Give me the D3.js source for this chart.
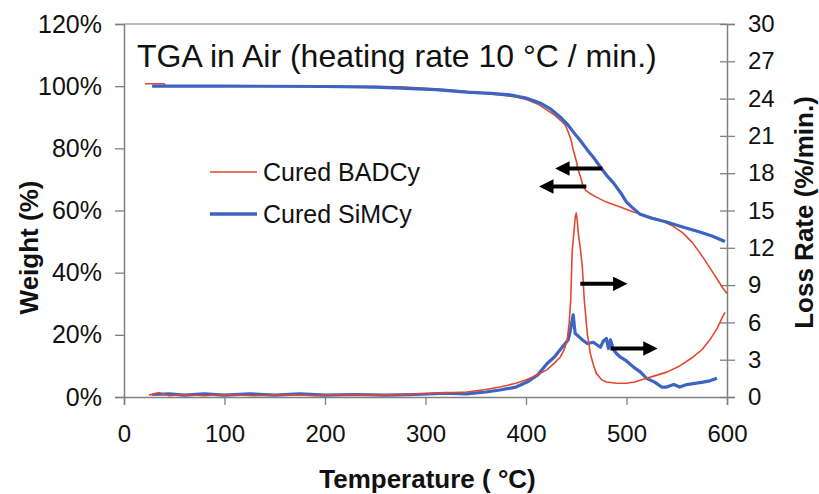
<!DOCTYPE html>
<html>
<head>
<meta charset="utf-8">
<script src="https://cdn.jsdelivr.net/npm/d3@7"></script>
<style>
  body { margin: 0; background: #fff; }
  text { font-family: "Liberation Sans", Arial, sans-serif; fill: #111; }
</style>
</head>
<body>
<div id="chart"></div>
<script>
var margin = {top: 24, right: 92, bottom: 97, left: 124},
    width = 819 - margin.left - margin.right,
    height = 494 - margin.top - margin.bottom;

// tick labels
var xTicks = [0, 100, 200, 300, 400, 500, 600];
var weightTicks = [0, 20, 40, 60, 80, 100, 120];
var rateTicks = [0, 3, 6, 9, 12, 15, 18, 21, 24, 27, 30];

// weight curves (left axis, %)
var badcyWeightT = [21, 40, 41, 100, 200, 275, 320, 350, 374, 390, 401, 412, 421, 428, 434, 439, 442, 445, 447, 450, 452, 455, 457, 460, 464, 470, 480, 493, 507, 520, 533, 545, 556, 566, 576, 586, 596, 600];
var badcyWeight  = [100.8, 100.8, 100.2, 100.1, 100, 99.8, 98.9, 98.0, 97.2, 96.5, 95.6, 94.2, 92.3, 90.8, 89.1, 87.5, 85.3, 82.5, 79.5, 76, 73, 70, 67.6, 66.3, 65.4, 64.3, 62.7, 61.2, 59.5, 58.3, 57, 55.2, 52.8, 49.5, 45, 40, 35, 33.3];

var simcyWeightT = [28, 100, 200, 250, 275, 310, 341, 365, 384, 400, 414, 425, 434, 441, 447, 454, 461, 468, 474, 480, 487, 494, 500, 507, 513, 525, 540, 555, 573, 585, 598];
var simcyWeight  = [100, 100, 99.9, 99.7, 99.4, 98.9, 98.1, 97.7, 97.2, 96.2, 94.6, 92.5, 90.1, 87.8, 85.3, 82.5, 79.5, 76.7, 74, 71.4, 68.9, 65.8, 62.7, 60.6, 58.9, 57.5, 56.3, 54.8, 53.1, 51.8, 50];

// loss rate curves (right axis, %/min.)
var badcyRateT = [25, 35, 45, 60, 80, 100, 130, 160, 190, 220, 250, 280, 310, 341, 360, 374, 390, 401, 412, 421, 428, 434, 438, 441, 443, 444.5, 446, 448, 449, 450, 451, 452, 454, 456, 458, 461, 464, 467, 470, 475, 480, 490, 500, 508, 516, 528, 540, 553, 566, 575, 583, 590, 596, 598];
var badcyRate  = [0.15, 0.35, 0.1, 0.2, 0.1, 0.2, 0.1, 0.2, 0.1, 0.2, 0.15, 0.2, 0.3, 0.4, 0.6, 0.8, 1.1, 1.4, 1.8, 2.2, 2.7, 3.2, 3.8, 4.6, 6, 7.8, 11.8, 13.5, 14.5, 14.8, 14.2, 13.2, 12, 10.5, 7.8, 5.1, 3.5, 2.6, 1.9, 1.4, 1.2, 1.1, 1.1, 1.2, 1.4, 1.7, 2.0, 2.5, 3.2, 3.8, 4.6, 5.5, 6.5, 6.8];

var simcyRateT = [28, 45, 60, 80, 100, 125, 150, 175, 200, 230, 260, 290, 320, 341, 360, 374, 390, 401, 412, 421, 428, 434, 438, 442, 444, 446, 447, 448, 449, 452, 456, 461, 467, 474, 477, 480, 482, 484, 487, 490, 494, 500, 507, 514, 520, 528, 535, 540, 547, 553, 560, 568, 576, 583, 590];
var simcyRate  = [0.2, 0.25, 0.15, 0.25, 0.15, 0.25, 0.15, 0.25, 0.15, 0.2, 0.15, 0.2, 0.3, 0.25, 0.4, 0.56, 0.8, 1.2, 1.8, 2.7, 3.2, 3.8, 4.2, 4.6, 5.3, 6.2, 6.6, 5.8, 5.1, 4.9, 4.6, 4.3, 4.4, 4.0, 4.5, 4.7, 3.9, 4.6, 3.8, 3.5, 3.2, 2.9, 2.4, 2.0, 1.5, 1.2, 0.8, 0.8, 1.0, 0.8, 1.0, 1.1, 1.2, 1.3, 1.5];

// arrows in data units: [T from, T to, value, axis]
var arrows = [
    [476, 428, 73.5, "left"],
    [460, 412, 67.7, "left"],
    [454, 502, 9.1, "right"],
    [484, 532, 3.9, "right"]
];

var red = "#e0492e", blue = "#3d64c2", axisGrey = "#808080";

var svg = d3.select("#chart").append("svg")
    .attr("width", width + margin.left + margin.right)
    .attr("height", height + margin.top + margin.bottom)
    .append("g")
    .attr("transform", "translate(" + margin.left + "," + margin.top + ")");

var x = d3.scaleLinear().domain([0, 600]).range([0, width]);
var yW = d3.scaleLinear().domain([0, 120]).range([height, 0]);
var yR = d3.scaleLinear().domain([0, 30]).range([height, 0]);

// frame top line
svg.append("line").attr("x1", 0).attr("x2", width).attr("y1", 0).attr("y2", 0)
    .attr("stroke", "#aaa").attr("stroke-width", 1.5);

// x axis
var xg = svg.append("g")
    .attr("transform", "translate(0," + height + ")")
    .call(d3.axisBottom(x).tickValues(xTicks).tickSize(8).tickPadding(20).tickFormat(d3.format("d")));
xg.selectAll("text").style("font-size", "24px");

// left axis
var lg = svg.append("g")
    .call(d3.axisLeft(yW).tickValues(weightTicks).tickSize(9).tickPadding(13).tickFormat(function(d) { return d + "%"; }));
lg.selectAll("text").style("font-size", "25px");

// right axis with ticks crossing the line
var rg = svg.append("g")
    .attr("transform", "translate(" + width + ",0)")
    .call(d3.axisRight(yR).tickValues(rateTicks).tickSize(8).tickPadding(13));
rg.selectAll("text").style("font-size", "24px");
rg.selectAll(".tick line").attr("x1", -7);

[xg, lg, rg].forEach(function(g) {
    g.select(".domain").attr("stroke", axisGrey).attr("stroke-width", 1.5);
    g.selectAll(".tick line").attr("stroke", axisGrey).attr("stroke-width", 1.3);
    g.selectAll("text").attr("fill", "#111");
});

// axis titles
svg.append("text")
    .attr("x", width / 2 + 2).attr("y", height + 91)
    .attr("text-anchor", "middle")
    .style("font-size", "26px").style("font-weight", "bold")
    .text("Temperature ( \u00B0C)");

svg.append("text")
    .attr("transform", "translate(-86," + (height / 2 + 37) + ") rotate(-90)")
    .attr("text-anchor", "middle")
    .style("font-size", "26px").style("font-weight", "bold")
    .text("Weight (%)");

svg.append("text")
    .attr("transform", "translate(" + (width + 86) + "," + (height / 2 + 2) + ") rotate(-90)")
    .attr("text-anchor", "middle")
    .style("font-size", "26px").style("font-weight", "bold")
    .text("Loss Rate (%/min.)");

// chart title
svg.append("text")
    .attr("x", 13).attr("y", 43)
    .style("font-size", "32px")
    .text("TGA in Air (heating rate 10 \u00B0C / min.)");

// curves
function pairs(ts, vs) { return ts.map(function(t, i) { return [t, vs[i]]; }); }

var lineW = d3.line().x(function(d) { return x(d[0]); }).y(function(d) { return yW(d[1]); });
var lineR = d3.line().x(function(d) { return x(d[0]); }).y(function(d) { return yR(d[1]); });

var series = [
    {data: pairs(badcyWeightT, badcyWeight), line: lineW, color: red, w: 1.6},
    {data: pairs(simcyWeightT, simcyWeight), line: lineW, color: blue, w: 3.2},
    {data: pairs(simcyRateT, simcyRate), line: lineR, color: blue, w: 3.2},
    {data: pairs(badcyRateT, badcyRate), line: lineR, color: red, w: 1.6}
];

series.forEach(function(s) {
    svg.append("path")
        .datum(s.data)
        .attr("fill", "none")
        .attr("stroke", s.color)
        .attr("stroke-width", s.w)
        .attr("stroke-linejoin", "round")
        .attr("d", s.line);
});

// arrows
svg.append("defs").append("marker")
    .attr("id", "head")
    .attr("viewBox", "0 0 10 10")
    .attr("refX", 1).attr("refY", 5)
    .attr("markerWidth", 4.2).attr("markerHeight", 3.6)
    .attr("orient", "auto")
    .append("path")
    .attr("d", "M0,0 L10,5 L0,10 z")
    .attr("fill", "#000");

arrows.forEach(function(a) {
    var y = a[3] === "left" ? yW(a[2]) : yR(a[2]);
    var dir = a[1] > a[0] ? 1 : -1;
    svg.append("line")
        .attr("x1", x(a[0])).attr("y1", y)
        .attr("x2", x(a[1]) - dir * 14).attr("y2", y)
        .attr("stroke", "#000").attr("stroke-width", 4)
        .attr("marker-end", "url(#head)");
});

// legend
var legend = [["Cured BADCy", red, 1.6], ["Cured SiMCy", blue, 3.5]];
legend.forEach(function(l, i) {
    var ly = 148 + i * 42;
    svg.append("line")
        .attr("x1", 86).attr("x2", 133).attr("y1", ly).attr("y2", ly)
        .attr("stroke", l[1]).attr("stroke-width", l[2]);
    svg.append("text")
        .attr("x", 139).attr("y", ly + 9)
        .style("font-size", "25px")
        .text(l[0]);
});
</script>
</body>
</html>
